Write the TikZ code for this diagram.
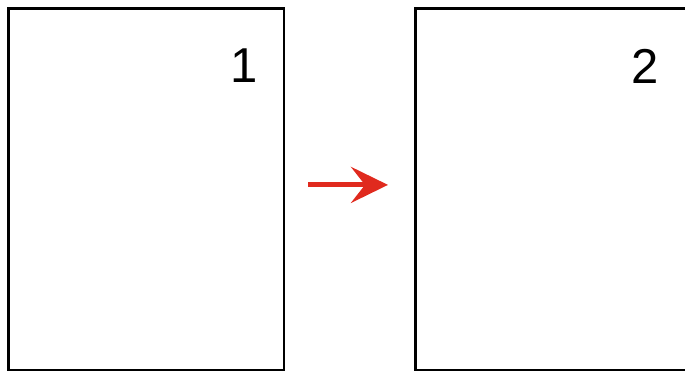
\documentclass[tikz,border=0pt]{standalone}
\usepackage{fontspec}
\setmainfont{Liberation Sans}
\usetikzlibrary{arrows.meta}
\definecolor{arrowred}{RGB}{224,42,30}
\begin{document}
\begin{tikzpicture}[x=1pt,y=-1pt,
  page/.style={draw=black, line width=2.8pt, minimum width=275.5pt, minimum height=362pt, inner sep=0pt, anchor=north west},
  num/.style={font=\fontsize{49}{49}\selectfont, inner sep=0pt},
  flow/.style={draw=arrowred, line width=5pt, -{Stealth[length=37pt,width=36pt,inset=14pt]}}]
\useasboundingbox (0,0) rectangle (685,370);
\node[page] (a) at (7,7) {};
\node[page] (b) at (414,7) {};
\node[num] (n1) at (244,66) {1};
\node[num] (n2) at (645,66) {2};
\draw[flow, shorten <=23pt, shorten >=26pt] ([yshift=4.5pt]a.east) -- ([yshift=4.5pt]b.west);
\end{tikzpicture}
\end{document}
